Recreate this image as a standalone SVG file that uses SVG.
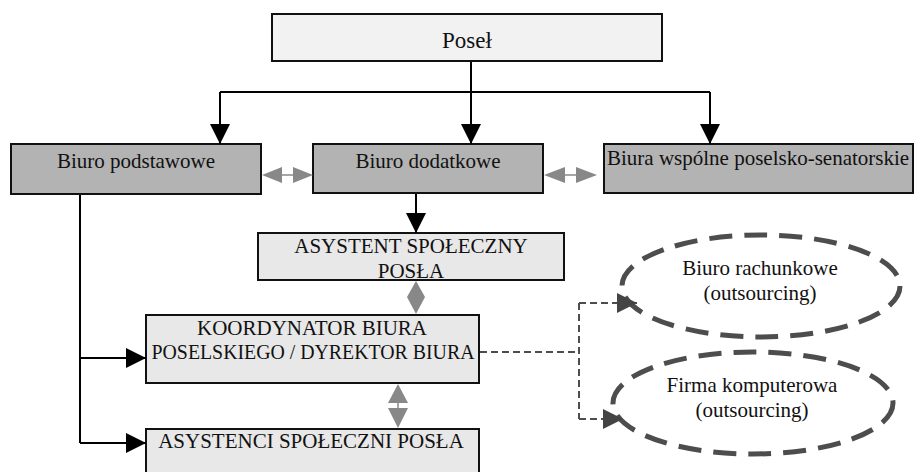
<svg xmlns="http://www.w3.org/2000/svg" width="918" height="472" viewBox="0 0 918 472">
  <style>
    text { font-family: "Liberation Serif", "Times New Roman", serif; font-size: 21px; fill: #111; }
    .c { text-anchor: middle; }
    .box { stroke: #111; stroke-width: 2; }
    .top { fill: #f2f2f2; }
    .dark { fill: #b3b3b3; }
    .light { fill: #e8e8e8; }
    .oval { fill: none; stroke: #4d4d4d; stroke-width: 5; stroke-dasharray: 23 12; }
    .line { fill: none; stroke: #000; stroke-width: 2; }
    .dash { fill: none; stroke: #4d4d4d; stroke-width: 2; stroke-dasharray: 7 4; }
    .grey { fill: #888; stroke: none; }
    .gline { stroke: #888; stroke-width: 1.5; }
  </style>
  <defs>
    <marker id="arrow" markerUnits="userSpaceOnUse" markerWidth="20" markerHeight="20" viewBox="0 0 20 20" refX="20" refY="10" orient="auto">
      <path d="M0,0 L20,10 L0,20 z" fill="#000"/>
    </marker>
    <marker id="arrowGrey" markerUnits="userSpaceOnUse" markerWidth="20" markerHeight="20" viewBox="0 0 20 20" refX="20" refY="10" orient="auto">
      <path d="M0,0 L20,10 L0,20 z" fill="#444"/>
    </marker>
  </defs>

  <g id="posel">
    <rect class="box top" x="272" y="14" width="390" height="47"/>
    <text class="c" x="467" y="48" style="font-size:23px">Poseł</text>
  </g>

  <g id="biuro-podstawowe">
    <rect class="box dark" x="11" y="144" width="250" height="50"/>
    <text class="c" x="136" y="168">Biuro podstawowe</text>
  </g>

  <g id="biuro-dodatkowe">
    <rect class="box dark" x="313" y="144" width="230" height="49"/>
    <text class="c" x="428" y="168">Biuro dodatkowe</text>
  </g>

  <g id="biura-wspolne">
    <rect class="box dark" x="604" y="144" width="309" height="49"/>
    <text x="607" y="165">Biura wspólne poselsko-senatorskie</text>
  </g>

  <g id="asystent-spoleczny">
    <rect class="box light" x="258" y="233" width="306" height="47"/>
    <text class="c" x="411" y="253">ASYSTENT SPOŁECZNY</text>
    <text class="c" x="411" y="278">POSŁA</text>
  </g>

  <g id="koordynator">
    <rect class="box light" x="146" y="315" width="333" height="68"/>
    <text class="c" x="312" y="335">KOORDYNATOR BIURA</text>
    <text class="c" x="313" y="359" textLength="323" lengthAdjust="spacingAndGlyphs">POSELSKIEGO / DYREKTOR BIURA</text>
  </g>

  <g id="asystenci-spoleczni">
    <rect class="box light" x="146" y="429" width="333" height="60"/>
    <text class="c" x="311" y="448">ASYSTENCI SPOŁECZNI POSŁA</text>
  </g>

  <g id="biuro-rachunkowe">
    <ellipse class="oval" cx="761" cy="286" rx="139" ry="51"/>
    <text class="c" x="760" y="275">Biuro rachunkowe</text>
    <text class="c" x="760" y="300">(outsourcing)</text>
  </g>

  <g id="firma-komputerowa">
    <ellipse class="oval" cx="753" cy="403" rx="140" ry="51"/>
    <text class="c" x="752" y="392">Firma komputerowa</text>
    <text class="c" x="752" y="417">(outsourcing)</text>
  </g>

  <g id="connectors">
    <!-- Poseł to the three offices -->
    <path class="line" d="M471,62 V92 M220,92 H710"/>
    <path class="line" d="M220,92 V144" marker-end="url(#arrow)"/>
    <path class="line" d="M471,92 V144" marker-end="url(#arrow)"/>
    <path class="line" d="M710,92 V144" marker-end="url(#arrow)"/>
    <!-- Biuro dodatkowe to asystent -->
    <path class="line" d="M416,194 V233" marker-end="url(#arrow)"/>
    <!-- Biuro podstawowe branch -->
    <path class="line" d="M80,195 V443"/>
    <path class="line" d="M80,358 H146" marker-end="url(#arrow)"/>
    <path class="line" d="M80,443 H146" marker-end="url(#arrow)"/>
    <!-- two-way links between offices -->
    <line class="gline" x1="282" y1="175" x2="293" y2="175"/>
    <polygon class="grey" points="262,175 282,167 282,183"/>
    <polygon class="grey" points="313,175 293,167 293,183"/>
    <line class="gline" x1="565" y1="175" x2="576" y2="175"/>
    <polygon class="grey" points="544,175 565,167 565,183"/>
    <polygon class="grey" points="597,175 576,167 576,183"/>
    <!-- asystent <-> koordynator -->
    <polygon class="grey" points="416,281 407,297 425,297"/>
    <polygon class="grey" points="407,297 425,297 416,314"/>
    <!-- koordynator <-> asystenci -->
    <line class="gline" x1="398" y1="403" x2="398" y2="408"/>
    <polygon class="grey" points="398,384 388,403 408,403"/>
    <polygon class="grey" points="398,428 388,408 408,408"/>
    <!-- outsourcing links -->
    <path class="dash" d="M480,352 H579 M579,303 V419"/>
    <path class="dash" d="M579,303 H637" marker-end="url(#arrowGrey)"/>
    <path class="dash" d="M579,419 H623" marker-end="url(#arrowGrey)"/>
  </g>
</svg>
